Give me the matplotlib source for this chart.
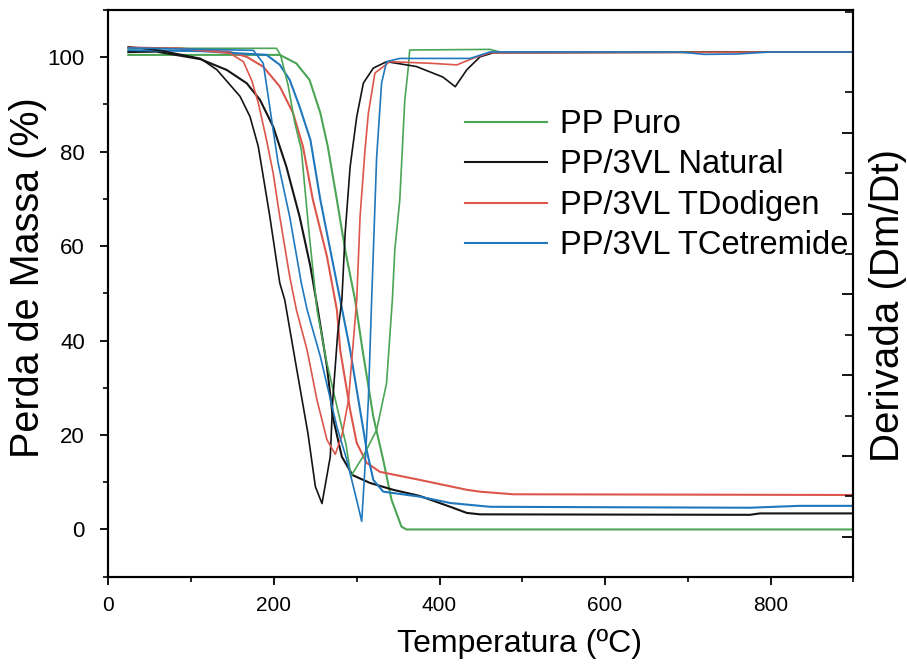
import matplotlib
matplotlib.use("Agg")
import matplotlib.pyplot as plt
from matplotlib.ticker import MultipleLocator, NullFormatter

# ---- TGA curves: mass (%) vs temperature (°C) ----
t_puro_tg = [24, 207, 227, 243, 256, 265, 276, 286, 298, 307, 320, 332, 342, 354, 360, 900]
m_puro_tg = [100.5, 100.5, 98.7, 95.2, 88.2, 81.1, 69.8, 59.2, 48.6, 38.0, 23.9, 14.7, 6.3, 0.6, 0.0, 0.0]

t_nat_tg = [24, 58, 111, 143, 167, 183, 199, 215, 231, 244, 253, 264, 271, 282, 295, 316,
            344, 376, 413, 433, 449, 775, 787, 900]
m_nat_tg = [101.1, 101.2, 99.6, 97.3, 94.5, 91.0, 85.3, 76.8, 66.2, 55.7, 46.5, 34.5, 23.9,
            15.4, 11.5, 9.85, 8.4, 7.1, 4.8, 3.5, 3.2, 3.1, 3.4, 3.4]

t_dod_tg = [24, 86, 147, 167, 187, 207, 223, 235, 247, 264, 276, 280, 292, 300, 312, 328,
            376, 433, 449, 489, 900]
m_dod_tg = [102.0, 101.9, 101.1, 100.1, 98.0, 93.8, 88.2, 81.1, 69.8, 57.8, 46.5, 38.0,
            25.3, 18.3, 14.1, 12.2, 10.5, 8.4, 8.0, 7.45, 7.3]

t_cet_tg = [24, 111, 191, 207, 219, 231, 244, 256, 268, 280, 292, 304, 312, 320, 332,
            376, 413, 461, 775, 835, 900]
m_cet_tg = [101.5, 101.3, 100.5, 98.4, 95.2, 89.5, 82.5, 69.8, 59.2, 48.6, 38.0, 25.3,
            16.8, 10.5, 8.0, 6.95, 5.6, 4.8, 4.6, 5.0, 5.0]

# ---- DTG curves: derivative of mass vs temperature ----
t_puro_dtg = [24, 203, 208, 217, 225, 233, 242, 252, 263, 277, 287, 293, 308, 324, 336,
              343, 346, 352, 358, 362, 364, 461, 473, 900]
d_puro_dtg = [0.045, 0.045, -0.04, -0.41, -0.87, -1.21, -2.20, -3.19, -3.81, -4.43, -4.86,
              -5.25, -5.00, -4.68, -4.10, -3.07, -2.45, -1.83, -0.60, -0.22, 0.024, 0.032,
              0.0, 0.0]

t_nat_dtg = [24, 62, 111, 131, 159, 171, 181, 187, 195, 207, 213, 227, 241, 250, 258, 268,
             271, 277, 282, 286, 292, 300, 308, 320, 336, 372, 404, 419, 433, 449, 465, 900]
d_nat_dtg = [0.064, 0.02, -0.08, -0.22, -0.55, -0.80, -1.17, -1.54, -2.04, -2.86, -3.07,
             -3.90, -4.72, -5.38, -5.59, -5.01, -4.31, -3.48, -3.07, -2.24, -1.42, -0.80,
             -0.385, -0.20, -0.12, -0.18, -0.31, -0.43, -0.22, -0.06, -0.01, 0.0]

t_dod_dtg = [24, 86, 147, 163, 173, 181, 191, 199, 207, 219, 227, 240, 252, 264, 274, 282,
             290, 295, 300, 304, 310, 314, 322, 340, 389, 421, 440, 461, 900]
d_dod_dtg = [0.057, 0.045, -0.017, -0.12, -0.35, -0.63, -1.09, -1.50, -2.04, -2.78, -3.19,
             -3.69, -4.31, -4.80, -4.98, -4.75, -4.31, -3.69, -3.07, -2.04, -1.21, -0.76,
             -0.26, -0.12, -0.14, -0.16, -0.08, -0.01, 0.0]

t_cet_dtg = [24, 175, 187, 193, 199, 205, 219, 233, 240, 256, 276, 288, 300, 306, 310, 314,
             318, 324, 330, 336, 352, 437, 461, 690, 720, 760, 800, 900]
d_cet_dtg = [0.05, 0.02, -0.14, -0.55, -0.97, -1.375, -2.04, -2.86, -3.19, -3.77, -4.64,
             -5.05, -5.55, -5.81, -5.13, -4.31, -3.07, -1.31, -0.385, -0.12, -0.08, -0.08,
             0.0, 0.0, -0.03, -0.025, 0.0, 0.0]

labels = ["PP Puro", "PP/3VL Natural", "PP/3VL TDodigen", "PP/3VL TCetremide"]
colors = ["#4ba555", "#141414", "#dc564c", "#1f78be"]

regular = ["Liberation Sans", "DejaVu Sans"]

fig = plt.figure(figsize=(9.07, 6.69), dpi=100)
ax = fig.add_axes([0.1196, 0.138, 0.8212, 0.847])
ax2 = ax.twinx()

tg_sets = [(t_puro_tg, m_puro_tg), (t_nat_tg, m_nat_tg),
           (t_dod_tg, m_dod_tg), (t_cet_tg, m_cet_tg)]
dtg_sets = [(t_puro_dtg, d_puro_dtg), (t_nat_dtg, d_nat_dtg),
            (t_dod_dtg, d_dod_dtg), (t_cet_dtg, d_cet_dtg)]

handles = []
for (t, m), lab, c in zip(tg_sets, labels, colors):
    h, = ax.plot(t, m, color=c, lw=1.5, label=lab)
    handles.append(h)
for (t, d), c in zip(dtg_sets, colors):
    ax2.plot(t, d, color=c, lw=1.2)

ax.set_xlim(0, 900)
ax.set_ylim(-10, 110)
ax2.set_ylim(-6.495, 0.519)

ax.xaxis.set_major_locator(MultipleLocator(200))
ax.xaxis.set_minor_locator(MultipleLocator(100))
ax.yaxis.set_major_locator(MultipleLocator(20))
ax.yaxis.set_minor_locator(MultipleLocator(10))
ax2.yaxis.set_major_locator(MultipleLocator(1))
ax2.yaxis.set_minor_locator(MultipleLocator(0.5))
ax2.yaxis.set_major_formatter(NullFormatter())

ax.tick_params(axis="both", which="major", direction="out", length=6, width=1.3)
ax.tick_params(axis="both", which="minor", direction="out", length=3.5, width=1.2)
ax.tick_params(axis="y", which="major", pad=11)
ax.tick_params(axis="x", which="major", pad=8)
ax.tick_params(top=False, which="both")
ax2.tick_params(axis="y", which="major", direction="in", length=8, width=1.3)
ax2.tick_params(axis="y", which="minor", direction="in", length=5.5, width=1.2)

for lbl in ax.get_yticklabels():
    lbl.set_family(regular)
    lbl.set_fontsize(16)
for lbl in ax.get_xticklabels():
    lbl.set_family(regular)
    lbl.set_fontsize(15)

for a in (ax, ax2):
    for s in a.spines.values():
        s.set_linewidth(1.5)

ax.set_xlabel("Temperatura (ºC)", family=regular, fontsize=23)
ax.xaxis.label.set_va("center")
ax.xaxis.set_label_coords(0.5525, -0.119)

ax.set_ylabel("Perda de Massa (%)", family=regular, fontsize=28.5)
ax.yaxis.label.set_va("center")
ax.yaxis.set_label_coords(-0.108, 0.527)

ax2.set_ylabel("Derivada (Dm/Dt)", family=regular, fontsize=29, rotation=90)
ax2.yaxis.label.set_va("center")
ax2.yaxis.set_label_coords(1.0466, 0.479)

leg = ax2.legend(handles=handles, labels=labels, loc="upper left",
                 bbox_to_anchor=(465 / 907, 1 - 109 / 669),
                 bbox_transform=fig.transFigure, frameon=False,
                 prop={"family": regular, "size": 23.5},
                 handlelength=2.5, handletextpad=0.4, labelspacing=0.29,
                 borderpad=0, borderaxespad=0)
for lh in leg.get_lines():
    lh.set_linewidth(1.5)

fig.savefig("out.png", dpi=100)
